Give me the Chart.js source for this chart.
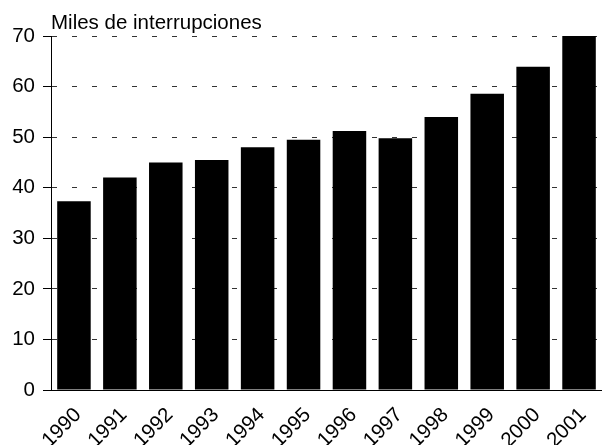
<!DOCTYPE html>
<html>
<head>
<meta charset="utf-8">
<script src="https://cdn.jsdelivr.net/npm/chart.js@4"></script>
<style>
  body { margin: 0; background: #fff; }
</style>
</head>
<body>
<canvas id="chart" width="602" height="445"></canvas>
<script>
const years = ["1990", "1991", "1992", "1993", "1994", "1995", "1996", "1997", "1998", "1999", "2000", "2001"];
const interrupciones = [37.3, 42, 45, 45.5, 48, 49.5, 51.2, 49.8, 54, 58.6, 63.9, 70];
const yTicks = [0, 10, 20, 30, 40, 50, 60, 70];

const font = { family: "'Liberation Sans', Arial, sans-serif", size: 20.5, weight: "normal" };

new Chart(document.getElementById("chart"), {
  type: "bar",
  data: {
    labels: years,
    datasets: [{
      data: interrupciones,
      backgroundColor: "#000",
      borderWidth: 0,
      barPercentage: 0.73,
      categoryPercentage: 1
    }]
  },
  options: {
    responsive: false,
    animation: false,
    layout: { padding: 0 },
    plugins: {
      legend: { display: false },
      tooltip: { enabled: false },
      title: {
        display: true,
        text: "Miles de interrupciones",
        align: "start",
        fullSize: false,
        color: "#000",
        font: font,
        padding: { top: 11, bottom: 0.4 }
      }
    },
    scales: {
      x: {
        grid: { display: false },
        border: { display: true, color: "#000", width: 1 },
        ticks: {
          color: "#000",
          font: font,
          minRotation: 45,
          maxRotation: 45,
          autoSkip: false,
          padding: 5,
          labelOffset: 4
        },
        afterFit: (scale) => { scale.height = 55; }
      },
      y: {
        min: 0,
        max: 70,
        afterBuildTicks: (scale) => { scale.ticks = yTicks.map(v => ({ value: v })); },
        grid: {
          color: "#333",
          tickColor: "#000",
          tickLength: 8,
          tickBorderDash: []
        },
        border: { display: true, color: "#000", width: 1, dash: [5, 15] },
        ticks: { color: "#000", font: font, padding: 8 },
        afterFit: (scale) => { scale.width = 51; }
      }
    }
  }
});
</script>
</body>
</html>
